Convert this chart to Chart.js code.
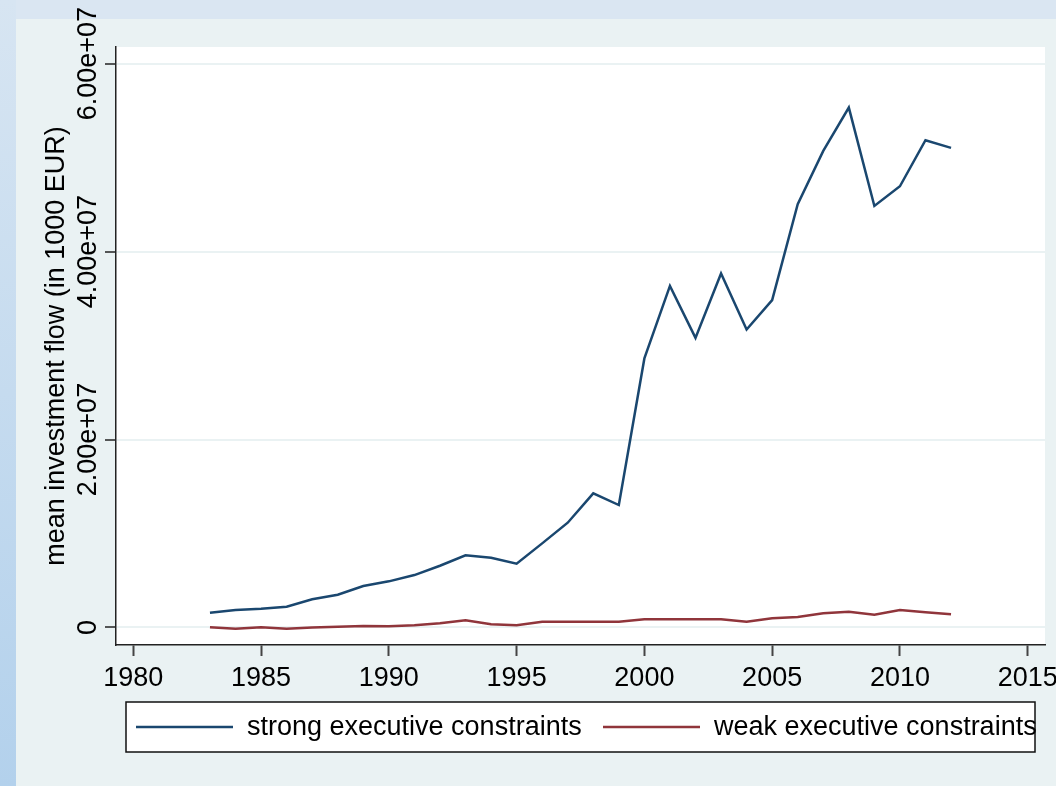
<!DOCTYPE html>
<html>
<head>
<meta charset="utf-8">
<title>Mean investment flow</title>
<script src="https://cdn.jsdelivr.net/npm/chart.js@4/dist/chart.umd.min.js"></script>
<style>
  body { margin: 0; background: #eaf2f3; }
  canvas { display: block; }
</style>
</head>
<body>
<canvas id="chart" width="1056" height="786"></canvas>
<script>
const years = [1983, 1984, 1985, 1986, 1987, 1988, 1989, 1990, 1991, 1992,
  1993, 1994, 1995, 1996, 1997, 1998, 1999, 2000, 2001, 2002,
  2003, 2004, 2005, 2006, 2007, 2008, 2009, 2010, 2011, 2012];

// mean investment flow, in 1000 EUR
const strongFlow = [1.57e6, 1.86e6, 2.0e6, 2.21e6, 3.0e6, 3.49e6, 4.41e6, 4.91e6, 5.58e6, 6.57e6,
  7.68e6, 7.42e6, 6.79e6, 8.95e6, 11.15e6, 14.27e6, 13.03e6, 28.63e6, 36.35e6, 30.82e6,
  37.67e6, 31.71e6, 34.83e6, 45.04e6, 50.71e6, 55.32e6, 44.85e6, 46.95e6, 51.85e6, 51.03e6];
const weakFlow = [0.02e6, -0.13e6, 0.02e6, -0.13e6, 0, 0.09e6, 0.16e6, 0.13e6, 0.25e6, 0.45e6,
  0.77e6, 0.34e6, 0.23e6, 0.62e6, 0.62e6, 0.62e6, 0.62e6, 0.87e6, 0.87e6, 0.87e6,
  0.87e6, 0.62e6, 0.98e6, 1.12e6, 1.51e6, 1.68e6, 1.36e6, 1.86e6, 1.62e6, 1.40e6];

const seriesNames = ['strong executive constraints', 'weak executive constraints'];
const yearTicks = [1980, 1985, 1990, 1995, 2000, 2005, 2010, 2015];
const flowTicks = [0, 2e7, 4e7, 6e7];
const flowTickLabels = ['0', '2.00e+07', '4.00e+07', '6.00e+07'];

const FONT = 'Arial, "Liberation Sans", sans-serif';
const NAVY = '#1a476f';
const MAROON = '#90353b';

// slide-like background, white plot region
const backdrop = {
  id: 'backdrop',
  beforeDraw(chart) {
    const { ctx, width, height, chartArea } = chart;
    ctx.save();
    ctx.fillStyle = '#eaf2f3';
    ctx.fillRect(0, 0, width, height);
    ctx.fillStyle = '#dae6f2';
    ctx.fillRect(0, 0, width, 19);
    const g = ctx.createLinearGradient(0, 0, 0, height);
    g.addColorStop(0, '#d7e5f2');
    g.addColorStop(1, '#b3d1ec');
    ctx.fillStyle = g;
    ctx.fillRect(0, 0, 16, height);
    ctx.fillStyle = '#ffffff';
    ctx.fillRect(chartArea.left, chartArea.top,
      chartArea.right - chartArea.left, chartArea.bottom - chartArea.top);
    ctx.restore();
  }
};

// rotated y tick labels, placed on the scale's own tick positions
const yLabels = {
  id: 'yLabels',
  afterDraw(chart) {
    const { ctx } = chart;
    const y = chart.scales.y;
    ctx.save();
    ctx.fillStyle = '#000';
    ctx.font = '27px ' + FONT;
    ctx.textAlign = 'center';
    ctx.textBaseline = 'alphabetic';
    flowTicks.forEach((v, i) => {
      ctx.save();
      ctx.translate(96, y.getPixelForValue(v));
      ctx.rotate(-Math.PI / 2);
      ctx.fillText(flowTickLabels[i], 0, 0);
      ctx.restore();
    });
    ctx.restore();
  }
};

// boxed legend under the x axis
const boxLegend = {
  id: 'boxLegend',
  afterDraw(chart) {
    const { ctx } = chart;
    const box = { left: 126, top: 702, right: 1035, bottom: 752 };
    const mid = (box.top + box.bottom) / 2;
    ctx.save();
    ctx.fillStyle = '#ffffff';
    ctx.fillRect(box.left, box.top, box.right - box.left, box.bottom - box.top);
    ctx.strokeStyle = '#111';
    ctx.lineWidth = 1.5;
    ctx.strokeRect(box.left, box.top, box.right - box.left, box.bottom - box.top);
    ctx.font = '27px ' + FONT;
    ctx.textBaseline = 'middle';
    ctx.fillStyle = '#000';
    const starts = [136, 603];
    chart.data.datasets.forEach((ds, i) => {
      const x = starts[i];
      ctx.strokeStyle = ds.borderColor;
      ctx.lineWidth = ds.borderWidth;
      ctx.beginPath();
      ctx.moveTo(x, mid);
      ctx.lineTo(x + 97, mid);
      ctx.stroke();
      ctx.fillText(ds.label, x + 111, mid + 1);
    });
    ctx.restore();
  }
};

new Chart(document.getElementById('chart'), {
  type: 'line',
  data: {
    labels: years,
    datasets: [
      {
        label: seriesNames[0],
        data: years.map((yr, i) => ({ x: yr, y: strongFlow[i] })),
        borderColor: NAVY,
        borderWidth: 2.5,
        pointRadius: 0,
        tension: 0
      },
      {
        label: seriesNames[1],
        data: years.map((yr, i) => ({ x: yr, y: weakFlow[i] })),
        borderColor: MAROON,
        borderWidth: 2.5,
        pointRadius: 0,
        tension: 0
      }
    ]
  },
  options: {
    responsive: false,
    animation: false,
    layout: { padding: { left: 20, top: 47, right: 11, bottom: 0 } },
    plugins: {
      legend: { display: false },
      tooltip: { enabled: false }
    },
    scales: {
      x: {
        type: 'linear',
        min: 1979.323,
        max: 2015.677,
        afterBuildTicks: s => { s.ticks = yearTicks.map(v => ({ value: v })); },
        afterFit: s => { s.height = 141; s.paddingLeft = 0; s.paddingRight = 0; },
        grid: {
          drawOnChartArea: false,
          drawTicks: true,
          tickLength: 11,
          tickWidth: 2,
          tickColor: '#444'
        },
        border: { display: true, color: '#222', width: 1.5 },
        ticks: {
          color: '#000',
          font: { family: FONT, size: 27 },
          padding: 6,
          maxRotation: 0,
          minRotation: 0,
          callback: v => String(v)
        }
      },
      y: {
        type: 'linear',
        min: -1.862e6,
        max: 6.1765e7,
        afterBuildTicks: s => { s.ticks = flowTicks.map(v => ({ value: v })); },
        afterFit: s => { s.width = 96; s.paddingTop = 0; s.paddingBottom = 0; },
        grid: {
          color: '#eaf2f3',
          lineWidth: 2,
          drawTicks: true,
          tickLength: 11,
          tickWidth: 1.5,
          tickColor: '#222'
        },
        border: { display: true, color: '#222', width: 1.5 },
        ticks: { display: false },
        title: {
          display: true,
          text: 'mean investment flow (in 1000 EUR)',
          color: '#000',
          font: { family: FONT, size: 27, lineHeight: 1 },
          padding: { top: 23, bottom: 0 }
        }
      }
    }
  },
  plugins: [backdrop, yLabels, boxLegend]
});
</script>
</body>
</html>
